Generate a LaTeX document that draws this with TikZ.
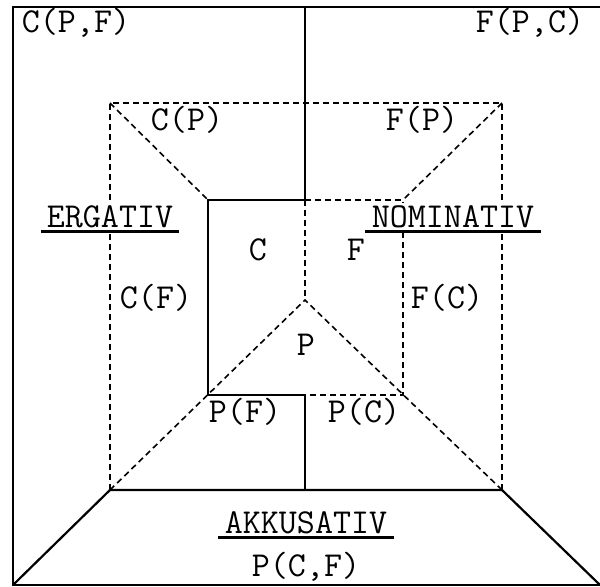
\documentclass[tikz,border=0pt]{standalone}
\usepackage{fontspec}
\usetikzlibrary{positioning}

\begin{document}
\begin{tikzpicture}[
  x=0.5pt, y=-0.5pt,
  every node/.style={font=\ttfamily\fontsize{17.5}{20}\selectfont, inner sep=0pt},
  frame line/.style={line width=1.1pt},
  dash line/.style={line width=0.8pt, dash pattern=on 3pt off 2pt},
  casename/.style={fill=white, inner xsep=3pt, inner ysep=1.5pt},
  case rule/.style={line width=1.1pt}
]
  \useasboundingbox (0,0) rectangle (600,587);

  % outer frame
  \coordinate (tl) at (13,7);
  \coordinate (tm) at (305,7);
  \coordinate (tr) at (600,7);
  \coordinate (bl) at (13,585);
  \coordinate (br) at (600,585);
  % dashed rectangle
  \coordinate (otl) at (110,103);
  \coordinate (otr) at (502,103);
  \coordinate (obl) at (110,490);
  \coordinate (obm) at (305,490);
  \coordinate (obr) at (502,490);
  % inner square
  \coordinate (itl) at (208,200);
  \coordinate (itm) at (305,200);
  \coordinate (itr) at (403,200);
  \coordinate (ibl) at (208,395);
  \coordinate (ibm) at (305,395);
  \coordinate (ibr) at (403,395);
  \coordinate (ctr) at (305,300);

  \draw[frame line] (tr) -- (tl) -- (bl) -- (br);
  \draw[frame line] (tm) -- (itm) -- (itl) -- (ibl) -- (ibm) -- (obm);
  \draw[frame line] (bl) -- (obl) -- (obr) -- (br);

  \draw[dash line] (obl) -- (otl) -- (otr) -- (obr);
  \draw[dash line] (otl) -- (itl);
  \draw[dash line] (otr) -- (itr);
  \draw[dash line] (itm) -- (itr) -- (ibr) -- (ibm);
  \draw[dash line] (itm) -- (ctr);
  \draw[dash line] (obl) -- (ctr) -- (obr);

  % labels
  \node (cpf) at (76,23) {C(P,F)};
  \node (fpc) at (530,23) {F(P,C)};
  \node (cp) at (187,120) {C(P)};
  \node (fp) at (422,120) {F(P)};
  \node (c) at (258,250) {C};
  \node (f) at (356,250) {F};
  \node (cf) at (156,298) {C(F)};
  \node (fc) at (447,298) {F(C)};
  \node (p) at (306,345) {P};
  \node (pf) at (245,412) {P(F)};
  \node (pc) at (364,412) {P(C)};
  \node (pcf) at (306,567) {P(C,F)};

  \node[casename] (erg) at (110,217) {ERGATIV};
  \node[casename] (nom) at (453,217) {NOMINATIV};
  \node[casename] (akk) at (306,523) {AKKUSATIV};
  \draw[case rule] (erg.south west) -- (erg.south east);
  \draw[case rule] (nom.south west) -- (nom.south east);
  \draw[case rule] (akk.south west) -- (akk.south east);
\end{tikzpicture}
\end{document}
